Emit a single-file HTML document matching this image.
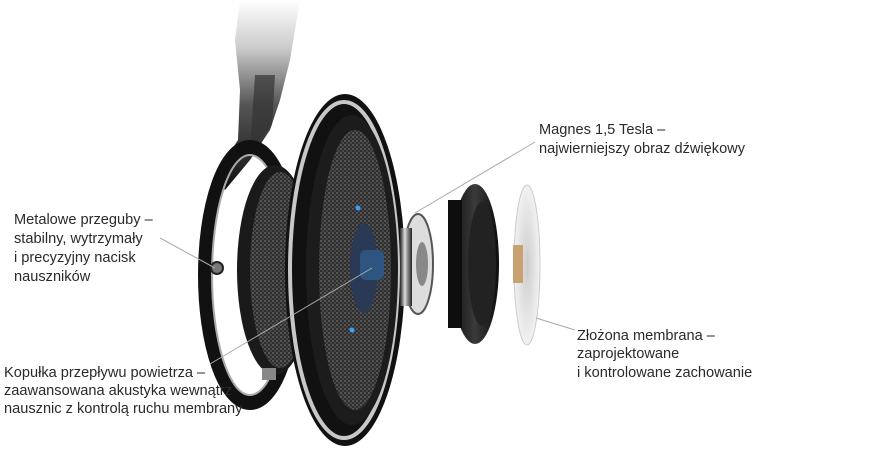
<!DOCTYPE html>
<html><head><meta charset="utf-8"><style>
html,body{margin:0;padding:0;background:#fff;}
svg{display:block;}
text{font-family:"Liberation Sans",sans-serif;font-size:14.6px;fill:#2a2a2a;}
</style></head><body>
<svg width="878" height="460" viewBox="0 0 878 460" xmlns="http://www.w3.org/2000/svg">
<defs>
<linearGradient id="band" x1="0" y1="0" x2="0" y2="1">
<stop offset="0" stop-color="#fff"/><stop offset="0.25" stop-color="#ccc"/><stop offset="0.55" stop-color="#555"/><stop offset="1" stop-color="#111"/>
</linearGradient>
<linearGradient id="metal" x1="0" y1="0" x2="1" y2="0">
<stop offset="0" stop-color="#222"/><stop offset="0.4" stop-color="#ddd"/><stop offset="0.6" stop-color="#999"/><stop offset="1" stop-color="#222"/>
</linearGradient>
<linearGradient id="blk" x1="0" y1="0" x2="1" y2="0">
<stop offset="0" stop-color="#111"/><stop offset="0.5" stop-color="#3a3a3a"/><stop offset="1" stop-color="#0d0d0d"/>
</linearGradient>
<pattern id="mesh" width="4" height="4" patternUnits="userSpaceOnUse">
<rect width="4" height="4" fill="#2e2e2e"/><rect width="2" height="2" fill="#555"/><rect x="2" y="2" width="2" height="2" fill="#484848"/>
</pattern>
<radialGradient id="memb" cx="0.5" cy="0.5" r="0.5"><stop offset="0" stop-color="#ccc"/><stop offset="1" stop-color="#f2f2f2"/></radialGradient>
</defs>
<!-- headband arm -->
<path d="M240 0 L300 0 L290 60 L280 100 L270 130 L250 160 L225 190 L215 175 L238 140 L240 90 L235 40 Z" fill="url(#band)"/>
<path d="M255 75 L275 75 L272 125 L250 150 Z" fill="#333" opacity="0.7"/>
<!-- yoke ring -->
<ellipse cx="250" cy="275" rx="45" ry="128" fill="none" stroke="#111" stroke-width="14"/>
<ellipse cx="250" cy="275" rx="38" ry="120" fill="none" stroke="#aaa" stroke-width="2"/>
<circle cx="217" cy="268" r="6" fill="#777" stroke="#222" stroke-width="2"/>
<!-- cup back -->
<ellipse cx="275" cy="270" rx="38" ry="105" fill="#1a1a1a"/>
<ellipse cx="280" cy="270" rx="30" ry="98" fill="url(#mesh)"/>
<rect x="262" y="368" width="14" height="12" fill="#888"/>
<!-- main cup -->
<ellipse cx="345" cy="270" rx="60" ry="176" fill="#111"/>
<ellipse cx="344" cy="270" rx="54" ry="168" fill="none" stroke="#c8c8c8" stroke-width="4"/>
<ellipse cx="352" cy="270" rx="46" ry="155" fill="#1c1c1c"/>
<ellipse cx="355" cy="270" rx="36" ry="140" fill="url(#mesh)"/>
<ellipse cx="364" cy="268" rx="14" ry="45" fill="#2a3a55"/>
<rect x="360" y="250" width="24" height="30" rx="6" fill="#2d5580"/>
<circle cx="358" cy="208" r="2.5" fill="#3aa0ff"/><circle cx="352" cy="330" r="2.5" fill="#3aa0ff"/>
<!-- magnet -->
<ellipse cx="418" cy="264" rx="15" ry="50" fill="#ddd" stroke="#555" stroke-width="2"/>
<rect x="400" y="228" width="12" height="78" fill="url(#metal)"/>
<ellipse cx="422" cy="264" rx="6" ry="22" fill="#888"/>
<!-- black ring -->
<ellipse cx="475" cy="264" rx="24" ry="80" fill="url(#blk)"/>
<ellipse cx="482" cy="264" rx="14" ry="62" fill="#222"/>
<rect x="448" y="200" width="14" height="128" fill="#0e0e0e"/>
<!-- membrane -->
<ellipse cx="527" cy="265" rx="13" ry="80" fill="url(#memb)" stroke="#ccc"/>
<rect x="513" y="245" width="10" height="38" fill="#c9a070"/>
<!-- leader lines -->
<g stroke="#aaa" stroke-width="1" fill="none">
<line x1="160" y1="238" x2="215" y2="268"/>
<line x1="210" y1="364" x2="372" y2="268"/>
<line x1="535" y1="142" x2="415" y2="213"/>
<line x1="575" y1="330" x2="536" y2="318"/>
</g>
<text x="14" y="224">Metalowe przeguby –</text>
<text x="14" y="243">stabilny, wytrzymały</text>
<text x="14" y="262">i precyzyjny nacisk</text>
<text x="14" y="281">nauszników</text>
<text x="4" y="377">Kopułka przepływu  powietrza –</text>
<text x="4" y="395">zaawansowana akustyka wewnątrz</text>
<text x="4" y="413">nausznic z kontrolą ruchu membrany</text>
<text x="539" y="134">Magnes 1,5 Tesla –</text>
<text x="539" y="153">najwierniejszy obraz dźwiękowy</text>
<text x="577" y="340">Złożona membrana –</text>
<text x="577" y="358">zaprojektowane</text>
<text x="577" y="377">i kontrolowane zachowanie</text>
</svg>
</body></html>
